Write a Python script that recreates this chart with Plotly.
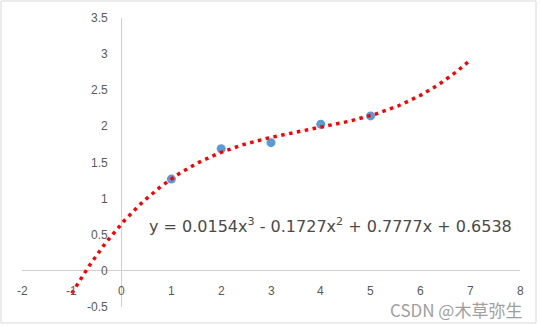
import numpy as np
import plotly.graph_objects as go

# data points
x_data = [1, 2, 3, 4, 5]
y_data = [1.27, 1.69, 1.775, 2.03, 2.145]

# trendline coefficients shown on chart (cubic, highest power first)
coef = [0.0154, -0.1727, 0.7777, 0.6538]
trend_x_range = [-1, 7]

x_ticks = [-2, -1, 0, 1, 2, 3, 4, 5, 6, 7, 8]
y_ticks = [-0.5, 0, 0.5, 1, 1.5, 2, 2.5, 3, 3.5]

tx = np.linspace(trend_x_range[0], trend_x_range[1], 300)
ty = np.polyval(coef, tx)

fig = go.Figure()
fig.add_trace(go.Scatter(x=x_data, y=y_data, mode="markers",
                         marker=dict(color="#5B9BD5", size=9), showlegend=False))
fig.add_trace(go.Scatter(x=tx, y=ty, mode="lines",
                         line=dict(color="#FF0000", width=3.5, dash="3.5px,4.5px"),
                         showlegend=False))

ann = []
for v in x_ticks:
    ann.append(dict(x=v, y=0, xref="x", yref="y", text=str(v), showarrow=False,
                    xanchor="center", yanchor="middle", yshift=-20,
                    font=dict(family="Liberation Sans", size=12, color="#595959")))
for v in y_ticks:
    ann.append(dict(x=0, y=v, xref="x", yref="y", text=f"{v:g}", showarrow=False,
                    xanchor="right", yanchor="middle", xshift=-12,
                    font=dict(family="Liberation Sans", size=12, color="#595959")))

def fmt(c):
    return f"{abs(c):.4f}"

eq = (f"y = {fmt(coef[0])}x<sup>3</sup> {'-' if coef[1] < 0 else '+'} {fmt(coef[1])}x<sup>2</sup> "
      f"{'-' if coef[2] < 0 else '+'} {fmt(coef[2])}x {'-' if coef[3] < 0 else '+'} {fmt(coef[3])}")
ann.append(dict(x=0.5, y=0.63, xref="x", yref="y", text=eq, showarrow=False,
                xanchor="left", yanchor="middle",
                font=dict(family="DejaVu Sans", size=16, color="#4a4a4a")))
ann.append(dict(x=1.0, y=0.0, xref="paper", yref="paper", text="CSDN @木草弥生",
                showarrow=False, xanchor="right", yanchor="middle", xshift=4, yshift=-2,
                font=dict(family="Noto Sans CJK SC", size=17, color="#a0a0a0")))

fig.update_layout(
    width=540, height=326,
    margin=dict(l=22, r=20, t=18, b=19),
    paper_bgcolor="white", plot_bgcolor="white",
    xaxis=dict(range=[-2, 8], showgrid=False, showticklabels=False, showline=False,
               zeroline=True, zerolinecolor="#d0d0d0", zerolinewidth=1, ticks=""),
    yaxis=dict(range=[-0.5, 3.5], showgrid=False, showticklabels=False, showline=False,
               zeroline=True, zerolinecolor="#d0d0d0", zerolinewidth=1, ticks=""),
    annotations=ann,
    shapes=[dict(type="rect", xref="paper", yref="paper",
                 x0=-21.0/498, x1=(536.0-22)/498, y0=(307-323.0)/289, y1=(307-1.0)/289,
                 line=dict(color="#d9d9d9", width=1), fillcolor="rgba(0,0,0,0)", layer="below")],
)

fig.write_html("out.html")
